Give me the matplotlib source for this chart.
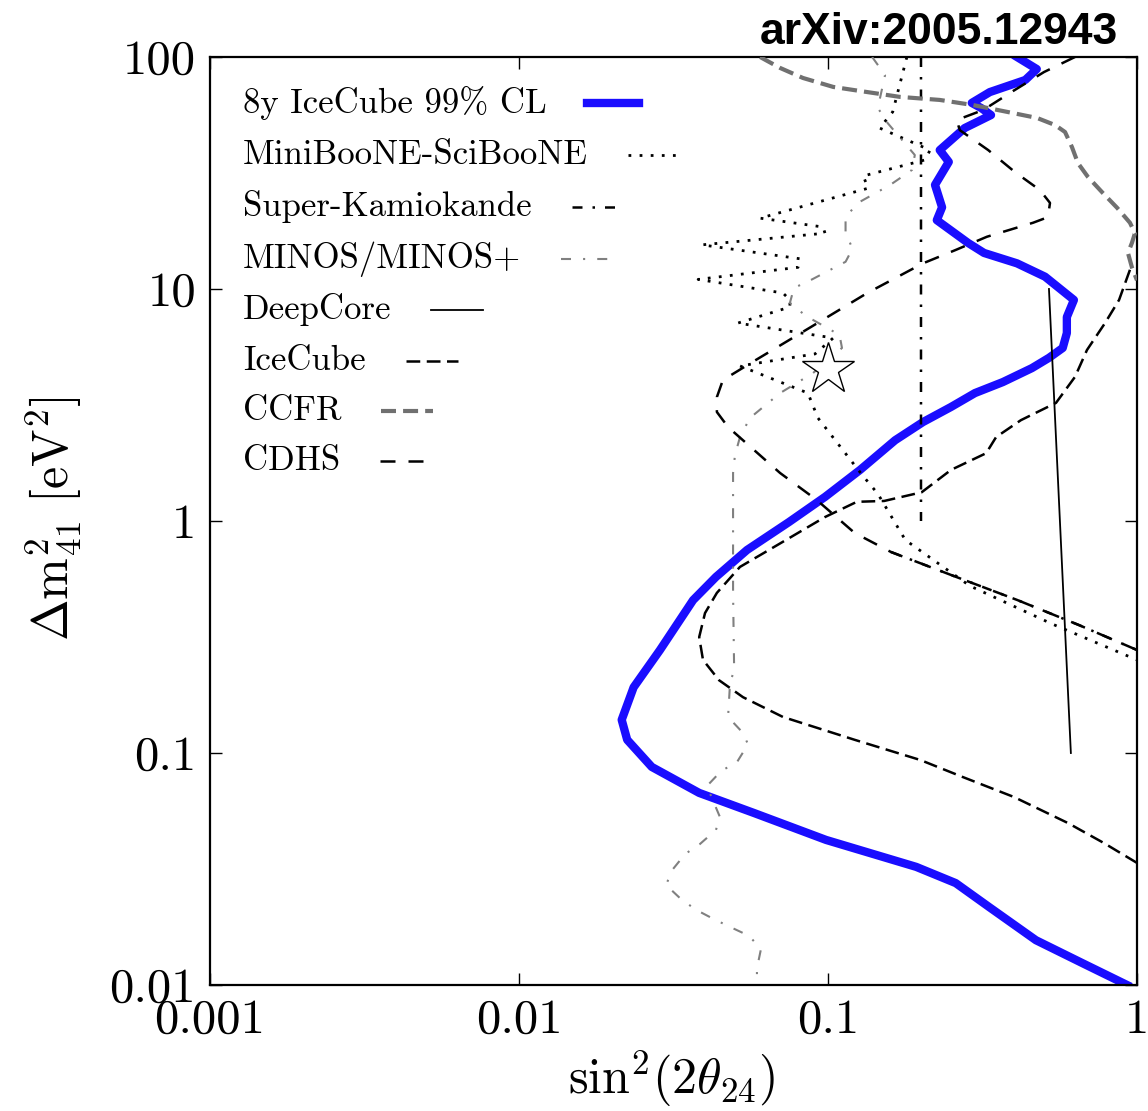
import numpy as np
import matplotlib
matplotlib.use('Agg')
import matplotlib.pyplot as plt
from matplotlib.lines import Line2D
from matplotlib.ticker import NullLocator

plt.rcParams['mathtext.fontset'] = 'cm'
plt.rcParams['font.family'] = ['cmr10', 'DejaVu Serif']
plt.rcParams['axes.formatter.use_mathtext'] = True

# ---------------- data ----------------
ic8_x = [0.409, 0.474, 0.435, 0.334, 0.292, 0.313, 0.337, 0.277, 0.230, 0.246, 0.222, 0.234,
         0.225, 0.284, 0.320, 0.409, 0.504, 0.625, 0.593, 0.593, 0.575, 0.519, 0.457, 0.368,
         0.299, 0.250, 0.203, 0.165, 0.127, 0.0978, 0.0748, 0.0547, 0.0434, 0.0366, 0.0286,
         0.0235, 0.0215, 0.0224, 0.0269, 0.0383, 0.0577, 0.0986, 0.193, 0.259, 0.332, 0.471,
         0.668, 0.929]
ic8_y = [100, 88.7, 79.6, 70.6, 63.4, 60.3, 56.2, 49.4, 39.7, 35.3, 28.1, 22.5,
         19.8, 15.8, 14.3, 12.9, 11.3, 8.97, 7.57, 6.46, 5.57, 5.05, 4.56, 3.97,
         3.56, 3.10, 2.67, 2.23, 1.66, 1.27, 0.99, 0.750, 0.574, 0.456, 0.278,
         0.192, 0.139, 0.114, 0.0871, 0.0673, 0.0551, 0.0422, 0.0323, 0.0275, 0.0217, 0.0156,
         0.0124, 0.0100]

mbsb_x = [0.180, 0.162, 0.147, 0.214, 0.206, 0.130, 0.135, 0.0603, 0.0964, 0.0978, 0.0391,
          0.0811, 0.0800, 0.0380, 0.0715, 0.0753, 0.0753, 0.0511, 0.104, 0.0908, 0.0519,
          0.0861, 0.0928, 0.129, 0.145, 0.178, 0.288, 0.531, 1.0]
mbsb_y = [100, 58.0, 49.4, 39.7, 36.0, 30.7, 27.2, 20.2, 18.5, 17.4, 15.5,
          13.5, 12.4, 11.0, 9.61, 8.97, 8.36, 7.13, 6.15, 5.25, 4.66,
          3.56, 2.78, 1.58, 1.31, 0.828, 0.525, 0.360, 0.252]

sk_x = [0.2, 0.2, np.nan, 0.160, 0.260, 0.409, 0.649, 1.0]
sk_y = [100, 1.0, np.nan, 0.735, 0.574, 0.457, 0.356, 0.278]

minos_x = [0.139, 0.153, 0.145, 0.156, 0.191, 0.187, 0.159, 0.125, 0.114, 0.114, 0.120, 0.114,
           0.0888, 0.0776, 0.0753, 0.0849, 0.109, 0.111, 0.0894, 0.0700, 0.0559, 0.0519, 0.0500,
           0.0493, 0.0493, 0.0497, 0.0482, 0.0475, 0.0531, 0.0551, 0.0508, 0.0451, 0.0406,
           0.0421, 0.0447, 0.0434, 0.0385, 0.0345, 0.0315, 0.0299, 0.0334, 0.0374, 0.0425,
           0.0482, 0.0555, 0.0607, 0.0589, 0.0589]
minos_y = [100, 83.6, 60.3, 51.9, 37.8, 32.6, 28.1, 23.5, 20.4, 17.6, 14.9, 13.1,
           11.0, 10.1, 8.71, 7.65, 6.34, 5.57, 4.34, 3.56, 2.78, 2.30, 1.92,
           1.61, 0.490, 0.228, 0.200, 0.143, 0.122, 0.109, 0.0915, 0.0836, 0.0721,
           0.0640, 0.0530, 0.0466, 0.0405, 0.0367, 0.0316, 0.0270, 0.0235, 0.0211, 0.0193,
           0.0178, 0.0163, 0.0143, 0.0118, 0.0105]

deepcore_x = [0.519, 0.611]
deepcore_y = [10.0, 0.1]

ic1_x = [0.949, 0.875, 0.788, 0.689, 0.630, 0.547, 0.421, 0.350, 0.325, 0.250, 0.201, 0.152,
         0.124, 0.0978, 0.0731, 0.0519, 0.0437, 0.0400, 0.0383, 0.0394, 0.0444, 0.0531,
         0.0715, 0.122, 0.199, 0.273, 0.400, 0.598, 0.782, 1.0]
ic1_y = [12.1, 8.97, 7.13, 5.46, 4.18, 3.23, 2.72, 2.30, 1.96, 1.66, 1.33, 1.22,
         1.21, 1.04, 0.828, 0.634, 0.490, 0.401, 0.316, 0.252, 0.206, 0.174,
         0.143, 0.114, 0.0933, 0.0788, 0.0646, 0.0499, 0.0409, 0.0336]

ccfr_x = [0.0603, 0.0700, 0.0830, 0.104, 0.134, 0.171, 0.230, 0.294, 0.380, 0.475, 0.543,
          0.585, 0.616, 0.644, 0.694, 0.776, 0.862, 0.949, 0.985, 0.963, 0.935, 0.963, 1.0]
ccfr_y = [100, 89.7, 81.2, 74.3, 70.6, 67.3, 65.3, 62.1, 58.0, 54.6, 50.9,
          47.5, 40.9, 34.9, 30.4, 25.9, 22.4, 19.3, 17.4, 15.8, 14.3, 12.4, 10.9]

cdhs_x = [0.630, 0.500, 0.397, 0.318, 0.261, 0.267, 0.330, 0.403, 0.485, 0.523, 0.515, 0.461,
          0.327, 0.258, 0.203, 0.134, 0.0881, 0.0563, 0.0457, 0.0437, 0.0437, 0.0475, 0.0700,
          0.0921, 0.122, 0.160, 0.260, 0.409, 0.649, 1.0]
cdhs_y = [100, 86.1, 71.3, 59.1, 53.5, 48.4, 39.7, 31.9, 26.7, 23.5, 20.4, 19.3,
          16.8, 14.7, 12.9, 9.61, 6.86, 4.80, 4.05, 3.42, 2.95, 2.54, 1.61,
          1.23, 0.888, 0.735, 0.574, 0.457, 0.356, 0.278]

bestfit_x = [0.1]
bestfit_y = [4.5]

labels = ['8y IceCube 99% CL', 'MiniBooNE-SciBooNE', 'Super-Kamiokande', 'MINOS/MINOS+',
          'DeepCore', 'IceCube', 'CCFR', 'CDHS']

xticks = [0.001, 0.01, 0.1, 1]
xticklabels = ['0.001', '0.01', '0.1', '1']
yticks = [0.01, 0.1, 1, 10, 100]
yticklabels = ['0.01', '0.1', '1', '10', '100']

# ---------------- styles ----------------
styles = [
    dict(color='#1a0dff', lw=6.0, ls='-', zorder=2),
    dict(color='black', lw=2.0, ls=(0, (1, 3)), zorder=3),
    dict(color='black', lw=1.8, ls=(0, (4, 4, 1, 4)), zorder=3),
    dict(color='#808080', lw=1.5, ls=(0, (4.8, 5.8, 1, 5.8)), zorder=3),
    dict(color='black', lw=1.3, ls='-', zorder=3),
    dict(color='black', lw=1.8, ls=(0, (5.5, 2.6)), zorder=3),
    dict(color='#707070', lw=3.0, ls=(0, (3.6, 1.7)), zorder=3),
    dict(color='black', lw=1.8, ls=(0, (6, 5.2)), zorder=3),
]
series = [(ic8_x, ic8_y), (mbsb_x, mbsb_y), (sk_x, sk_y), (minos_x, minos_y),
          (deepcore_x, deepcore_y), (ic1_x, ic1_y), (ccfr_x, ccfr_y), (cdhs_x, cdhs_y)]

fig = plt.figure(figsize=(11.48, 11.11), dpi=100)
ax = fig.add_axes([0.1829, 0.1134, 0.8075, 0.8353])

for (xs, ys), st in zip(series, styles):
    ax.plot(xs, ys, solid_joinstyle='round', **st)

ax.plot(bestfit_x, bestfit_y, marker='*', ms=39, mfc='white', mec='black', mew=1.0,
        ls='none', zorder=4)

ax.set_xscale('log')
ax.set_yscale('log')
ax.set_xlim(1e-3, 1)
ax.set_ylim(1e-2, 100)
ax.set_xticks(xticks)
ax.set_xticklabels(xticklabels)
ax.set_yticks(yticks)
ax.set_yticklabels(yticklabels)
ax.xaxis.set_minor_locator(NullLocator())
ax.yaxis.set_minor_locator(NullLocator())
ax.tick_params(which='major', direction='in', length=8.5, width=1.0, top=True, right=True,
               labelsize=35, pad=10)
for sp in ax.spines.values():
    sp.set_linewidth(1.6)

ax.set_xlabel(r'$\mathrm{sin}^2(2\theta_{24})$', fontsize=36)
ax.set_ylabel(r'$\Delta\mathrm{m}^2_{41}\ [\mathrm{eV}^2]$', fontsize=36)
ax.xaxis.set_label_coords(0.498, -0.068)
ax.yaxis.set_label_coords(-0.136, 0.503)

fig.text(0.974, 0.9604, 'arXiv:2005.12943', ha='right', va='baseline', fontsize=32,
         fontweight='bold', family='Liberation Sans')

# ---------------- manual legend: label then handle ----------------
row_y = [0.9504, 0.8944, 0.8384, 0.7823, 0.7274, 0.6724, 0.6185, 0.5647]
texts = []
for lab, yy in zip(labels, row_y):
    texts.append(ax.text(0.0356, yy, lab, transform=ax.transAxes, fontsize=25,
                         ha='left', va='center', zorder=5))
fig.canvas.draw()
renderer = fig.canvas.get_renderer()
inv = ax.transAxes.inverted()
for t, st, yy in zip(texts, styles, row_y):
    bb = t.get_window_extent(renderer)
    x0 = bb.x1 + 40
    x1 = x0 + 52
    (ax0, _), (ax1, _) = inv.transform([(x0, 0), (x1, 0)])
    hst = dict(st)
    hst['zorder'] = 5
    ax.add_line(Line2D([ax0, ax1], [yy, yy], transform=ax.transAxes, **hst))

fig.savefig('out.png', dpi=100)
